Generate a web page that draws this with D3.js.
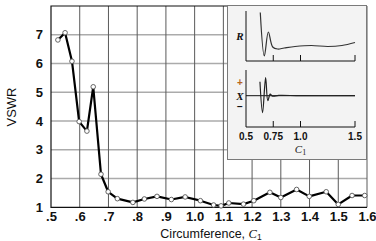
<!DOCTYPE html>
<html>
<head>
<meta charset="utf-8">
<script src="https://cdn.jsdelivr.net/npm/d3@7/dist/d3.min.js"></script>
<style>
  html, body { margin: 0; padding: 0; background: #fff; }
  svg { display: block; }
</style>
</head>
<body>
<div id="chart"></div>
<script>
// ---------------------------------------------------------------------
// Data
// ---------------------------------------------------------------------
const circumference = [0.524, 0.549, 0.573, 0.598, 0.625, 0.647, 0.674, 0.699, 0.731, 0.785,
    0.825, 0.869, 0.919, 0.967, 1.02, 1.066, 1.092, 1.119, 1.17, 1.206,
    1.262, 1.30, 1.355, 1.399, 1.458, 1.50, 1.548, 1.592];
const vswr = [6.82, 7.07, 6.08, 3.98, 3.65, 5.19, 2.15, 1.54, 1.30, 1.17,
    1.29, 1.38, 1.27, 1.36, 1.23, 1.08, 1.05, 1.15, 1.11, 1.23,
    1.52, 1.34, 1.62, 1.38, 1.54, 1.10, 1.41, 1.41];

const xTicks = [0.5, 0.6, 0.7, 0.8, 0.9, 1.0, 1.1, 1.2, 1.3, 1.4, 1.5, 1.6];
const xTickLabels = ['.5', '.6', '.7', '.8', '.9', '1.0', '1.1', '1.2', '1.3', '1.4', '1.5', '1.6'];
const yTicks = [1, 2, 3, 4, 5, 6, 7];

// inset: resistance R and reactance X (arbitrary units) vs C1
const insetRC = [0.631, 0.668, 0.705, 0.745, 0.79, 0.85, 0.95, 1.1, 1.25, 1.38, 1.5];
const insetR = [97, 10, 58, 28, 24, 26, 29, 31, 29, 31, 37];
const insetXC = [0.628, 0.652, 0.680, 0.700, 0.722, 0.745, 0.8, 1.0, 1.5];
const insetX = [14, -17, 18, -5, 1.5, -0.5, 0.3, 0, 0];
const insetTicks = [0.5, 0.75, 1.0, 1.5];
const insetTickLabels = ['0.5', '0.75', '1.0', '1.5'];

// ---------------------------------------------------------------------
// Setup
// ---------------------------------------------------------------------
const W = 376, H = 241;
const plot = { left: 51, right: 367, top: 6, bottom: 207.3 };

const svg = d3.select('#chart').append('svg')
    .attr('width', W).attr('height', H);

const x = d3.scaleLinear().domain([0.5, 1.6]).range([plot.left, plot.right]);
const y = d3.scaleLinear().domain([1, 8]).range([plot.bottom, plot.top]);

const sans = 'Liberation Sans, Arial, sans-serif';
const serif = 'Liberation Serif, Times New Roman, serif';

// grid
svg.append('g')
    .selectAll('line').data(yTicks.slice(1)).join('line')
    .attr('x1', plot.left).attr('x2', plot.right)
    .attr('y1', d => y(d)).attr('y2', d => y(d))
    .attr('stroke', '#ababab').attr('stroke-width', 1.5);

svg.append('g')
    .selectAll('line').data(xTicks.slice(1)).join('line')
    .attr('x1', d => x(d)).attr('x2', d => x(d))
    .attr('y1', plot.top).attr('y2', plot.bottom)
    .attr('stroke', '#5a5a5a').attr('stroke-width', 1);

// frame
svg.append('path')
    .attr('d', `M${plot.right},${plot.top}H${plot.left}V${plot.bottom}H${plot.right}`)
    .attr('fill', 'none').attr('stroke', '#111').attr('stroke-width', 1.2);

// axes labels
const xAxis = d3.axisBottom(x).tickValues(xTicks)
    .tickFormat((d, i) => xTickLabels[i]).tickSize(0).tickPadding(4);
svg.append('g').attr('transform', `translate(0,${plot.bottom})`).call(xAxis)
    .call(g => g.select('.domain').remove())
    .selectAll('text')
    .attr('font-family', sans).attr('font-size', 13).attr('font-weight', 'bold').attr('fill', '#111');

const yAxis = d3.axisLeft(y).tickValues(yTicks).tickFormat(d3.format('d'))
    .tickSize(0).tickPadding(8);
svg.append('g').attr('transform', `translate(${plot.left},0)`).call(yAxis)
    .call(g => g.select('.domain').remove())
    .selectAll('text')
    .attr('font-family', sans).attr('font-size', 13).attr('font-weight', 'bold').attr('fill', '#111');

svg.append('text')
    .attr('transform', 'translate(16,107) rotate(-90)')
    .attr('text-anchor', 'middle')
    .attr('font-family', sans).attr('font-size', 13).attr('fill', '#111')
    .text('VSWR');

const xTitle = svg.append('text')
    .attr('x', 211).attr('y', 238)
    .attr('text-anchor', 'middle')
    .attr('font-family', sans).attr('font-size', 12.5).attr('fill', '#111');
xTitle.append('tspan').text('Circumference, ');
xTitle.append('tspan').attr('font-family', serif).attr('font-style', 'italic').text('C');
xTitle.append('tspan').attr('font-size', 8.5).attr('dy', 1.5).text('1');

// ---------------------------------------------------------------------
// VSWR curve
// ---------------------------------------------------------------------
const pts = circumference.map((c, i) => [c, vswr[i]]);
const line = d3.line().x(d => x(d[0])).y(d => y(d[1]));

svg.append('path')
    .datum(pts)
    .attr('d', line)
    .attr('fill', 'none').attr('stroke', '#000').attr('stroke-width', 2.2)
    .attr('stroke-linejoin', 'round');

svg.append('g')
    .selectAll('circle').data(pts).join('circle')
    .attr('cx', d => x(d[0])).attr('cy', d => y(d[1])).attr('r', 2.3)
    .attr('fill', '#fff').attr('stroke', '#555').attr('stroke-width', 0.9);

// ---------------------------------------------------------------------
// Inset
// ---------------------------------------------------------------------
const inset = svg.append('g');
inset.append('rect')
    .attr('x', 227.5).attr('y', 5.5).attr('width', 139).attr('height', 154)
    .attr('fill', '#f3f3f3').attr('stroke', '#7a7a7a').attr('stroke-width', 1);

const ix = d3.scaleLinear().domain([0.5, 1.5]).range([246, 355]);
const iyR = d3.scaleLinear().domain([0, 100]).range([61, 11]);
const iyX = d3.scaleLinear().domain([-30, 30]).range([125.7, 65.7]);

// R panel axes
inset.append('path')
    .attr('d', `M${ix(0.5)},11V${iyR(0)}H${ix(1.5)}`)
    .attr('fill', 'none').attr('stroke', '#111').attr('stroke-width', 1);
inset.append('g').selectAll('line').data(insetTicks.slice(1)).join('line')
    .attr('x1', d => ix(d)).attr('x2', d => ix(d))
    .attr('y1', iyR(0)).attr('y2', iyR(0) - 6)
    .attr('stroke', '#111').attr('stroke-width', 1);

// X panel axes
const xBottom = 127;
inset.append('path')
    .attr('d', `M${ix(0.5)},70V${xBottom}H${ix(1.5)}`)
    .attr('fill', 'none').attr('stroke', '#111').attr('stroke-width', 1);
inset.append('line')
    .attr('x1', ix(0.5)).attr('x2', ix(1.5))
    .attr('y1', iyX(0)).attr('y2', iyX(0))
    .attr('stroke', '#111').attr('stroke-width', 1);
inset.append('g').selectAll('line').data(insetTicks.slice(1)).join('line')
    .attr('x1', d => ix(d)).attr('x2', d => ix(d))
    .attr('y1', xBottom).attr('y2', xBottom - 6)
    .attr('stroke', '#111').attr('stroke-width', 1);

// inset tick labels
inset.append('g').selectAll('text').data(insetTicks).join('text')
    .attr('x', d => ix(d)).attr('y', 139.5)
    .attr('text-anchor', 'middle')
    .attr('font-family', sans).attr('font-size', 10).attr('font-weight', 'bold').attr('fill', '#111')
    .text((d, i) => insetTickLabels[i]);

const cLabel = inset.append('text')
    .attr('x', ix(1.0)).attr('y', 153)
    .attr('text-anchor', 'middle')
    .attr('font-family', serif).attr('font-size', 11).attr('font-style', 'italic').attr('fill', '#222');
cLabel.append('tspan').text('C');
cLabel.append('tspan').attr('font-size', 8).attr('font-style', 'normal').attr('dy', 2).text('1');

// side labels
inset.append('text').attr('x', 240).attr('y', 40).attr('text-anchor', 'middle')
    .attr('font-family', serif).attr('font-size', 11).attr('font-style', 'italic').attr('font-weight', 'bold')
    .attr('fill', '#111').text('R');
inset.append('text').attr('x', 240).attr('y', 99.5).attr('text-anchor', 'middle')
    .attr('font-family', serif).attr('font-size', 11).attr('font-style', 'italic').attr('font-weight', 'bold')
    .attr('fill', '#111').text('X');
inset.append('text').attr('x', 240).attr('y', 86).attr('text-anchor', 'middle')
    .attr('font-family', sans).attr('font-size', 10).attr('font-weight', 'bold')
    .attr('fill', '#b5651d').text('+');
inset.append('text').attr('x', 240).attr('y', 110).attr('text-anchor', 'middle')
    .attr('font-family', sans).attr('font-size', 10).attr('font-weight', 'bold')
    .attr('fill', '#111').text('\u2212');

// inset curves
const rLine = d3.line().curve(d3.curveCatmullRom.alpha(0.5))
    .x(d => ix(d[0])).y(d => iyR(d[1]));
inset.append('path')
    .datum(insetRC.map((c, i) => [c, insetR[i]]))
    .attr('d', rLine)
    .attr('fill', 'none').attr('stroke', '#333').attr('stroke-width', 1.2);

const xLine = d3.line().curve(d3.curveCatmullRom.alpha(0.5))
    .x(d => ix(d[0])).y(d => iyX(d[1]));
inset.append('path')
    .datum(insetXC.map((c, i) => [c, insetX[i]]))
    .attr('d', xLine)
    .attr('fill', 'none').attr('stroke', '#222').attr('stroke-width', 1.2);
</script>
</body>
</html>
